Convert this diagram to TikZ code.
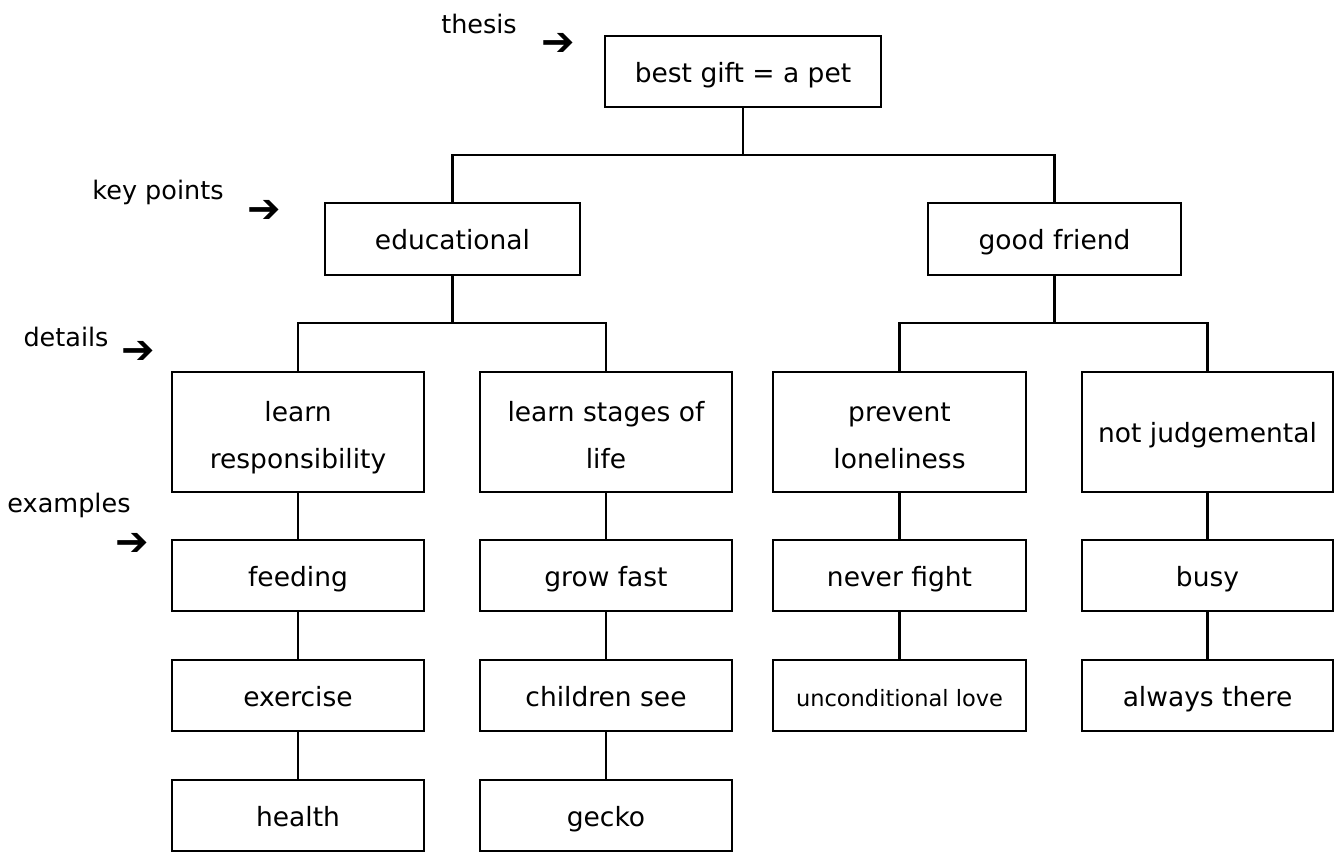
\documentclass[tikz,border=0pt]{standalone}
\usepackage{fontspec}
\setmainfont{DejaVu Sans}
\begin{document}
\begin{tikzpicture}[x=1pt,y=-1pt,
  box/.style={draw,line width=2.4pt,inner sep=0pt,font=\fontsize{26.5}{47}\selectfont,
    text height=22pt,text depth=1pt,minimum height=71pt},
  tallbox/.style={draw,line width=2.4pt,inner sep=0pt,font=\fontsize{26.5}{47}\selectfont,
    align=center,text height=72pt,text depth=0pt,minimum height=120pt},
  conn/.style={line width=2.4pt},
  lbl/.style={anchor=base,inner sep=0pt,font=\fontsize{25.5}{30}\selectfont},
  pointer/.style={inner sep=0pt,font=\fontsize{40}{40}\selectfont}]
\useasboundingbox (0,0) rectangle (1335,852);

% labels and pointers
\node[lbl] (lthesis) at (479,33) {thesis};
\node[pointer] (pthesis) at (558,44) {➔};
\node[lbl] (lkey) at (158,199) {key points};
\node[pointer] (pkey) at (264,211) {➔};
\node[lbl] (ldetails) at (66,346) {details};
\node[pointer] (pdetails) at (138,352) {➔};
\node[lbl] (lexamples) at (69,512) {examples};
\node[pointer] (pexamples) at (132,544) {➔};

% thesis and key points
\node[box,minimum width=276pt] (thesis) at (743,71.5) {best gift = a pet};
\node[box,minimum width=255pt,minimum height=72pt] (edu) at (452.5,239) {educational};
\node[box,minimum width=253pt,minimum height=72pt] (friend) at (1054.5,239) {good friend};

% details
\node[tallbox,minimum width=252pt] (d1) at (298,432) {learn\\responsibility};
\node[tallbox,minimum width=252pt] (d2) at (606,432) {learn stages of\\life};
\node[tallbox,minimum width=253pt] (d3) at (899.5,432) {prevent\\loneliness};
\node[box,minimum width=251pt,minimum height=120pt] (d4) at (1207.5,432) {not judgemental};

% examples
\node[box,minimum width=252pt] (e11) at (298,575.5) {feeding};
\node[box,minimum width=252pt] (e12) at (298,695.5) {exercise};
\node[box,minimum width=252pt] (e13) at (298,815.5) {health};
\node[box,minimum width=252pt] (e21) at (606,575.5) {grow fast};
\node[box,minimum width=252pt] (e22) at (606,695.5) {children see};
\node[box,minimum width=252pt] (e23) at (606,815.5) {gecko};
\node[box,minimum width=253pt] (e31) at (899.5,575.5) {never fight};
\node[box,minimum width=253pt,font=\fontsize{22.5}{30}\selectfont] (e32) at (899.5,695.5) {unconditional love};
\node[box,minimum width=251pt] (e41) at (1207.5,575.5) {busy};
\node[box,minimum width=251pt] (e42) at (1207.5,695.5) {always there};

% connectors
\coordinate (j0) at (743,155);
\draw[conn] (thesis.south) -- (j0);
\draw[conn] (edu.north) |- (j0) -| (friend.north);
\coordinate (j1) at (452.5,323);
\draw[conn] (edu.south) -- (j1);
\draw[conn] (d1.north) |- (j1) -| (d2.north);
\coordinate (j2) at (1054.5,323);
\draw[conn] (friend.south) -- (j2);
\draw[conn] (d3.north) |- (j2) -| (d4.north);

\draw[conn] (d1.south) -- (e11.north);
\draw[conn] (e11.south) -- (e12.north);
\draw[conn] (e12.south) -- (e13.north);
\draw[conn] (d2.south) -- (e21.north);
\draw[conn] (e21.south) -- (e22.north);
\draw[conn] (e22.south) -- (e23.north);
\draw[conn] (d3.south) -- (e31.north);
\draw[conn] (e31.south) -- (e32.north);
\draw[conn] (d4.south) -- (e41.north);
\draw[conn] (e41.south) -- (e42.north);
\end{tikzpicture}
\end{document}
